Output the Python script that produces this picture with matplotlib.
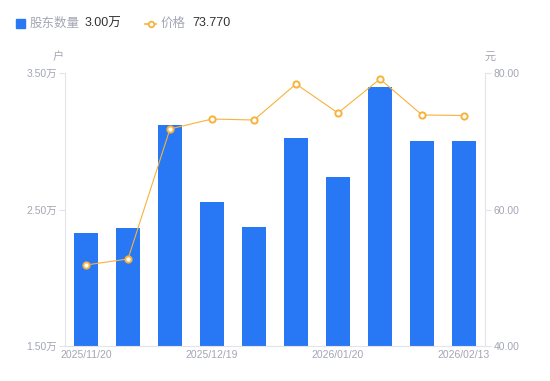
import matplotlib
matplotlib.use("Agg")
import matplotlib.pyplot as plt
from matplotlib.lines import Line2D
from matplotlib.patches import Rectangle

plt.rcParams['font.family'] = ['Liberation Sans', 'Noto Sans CJK SC', 'DejaVu Sans']

dates = ["2025/11/20", "2025/11/28", "2025/12/10", "2025/12/19", "2025/12/31",
         "2026/01/09", "2026/01/20", "2026/01/30", "2026/02/10", "2026/02/13"]
holders = [2.33, 2.365, 3.12, 2.555, 2.372, 3.025, 2.738, 3.40, 3.00, 3.00]  # 万户
prices = [51.87, 52.75, 71.8, 73.26, 73.11, 78.39, 74.14, 79.12, 73.85, 73.77]
shown_ticks = ["2025/11/20", "2025/12/19", "2026/01/20", "2026/02/13"]
left_ticks = [1.5, 2.5, 3.5]
right_ticks = [40, 60, 80]

BLUE = "#2878f6"
ORANGE = "#f8b23b"
GRAY = "#a3a6b4"
AXC = "#e3e4e8"
CJK = ['Noto Sans CJK SC', 'DejaVu Sans']

fig = plt.figure(figsize=(5.5, 3.81), dpi=100)
ax = fig.add_axes([65/550, 1-346/381, 420/550, 273/381])
x = list(range(len(dates)))
ax.bar(x, holders, width=0.56, color=BLUE, zorder=2)
ax.set_xlim(-0.5, len(dates)-0.5)
ax.set_ylim(1.5, 3.5)
ax.set_yticks(left_ticks)
ax.set_yticklabels([f"{v:.2f}万" for v in left_ticks])
ax.set_xticks([dates.index(d) for d in shown_ticks])
ax.set_xticklabels(shown_ticks)
for s in ["top", "right"]:
    ax.spines[s].set_visible(False)
ax.spines["left"].set_color(AXC)
ax.spines["bottom"].set_color(AXC)
ax.tick_params(axis="y", colors=AXC, labelcolor=GRAY, labelsize=7.5, length=4, pad=2)
ax.tick_params(axis="x", length=0, labelcolor=GRAY, labelsize=7.5, pad=3)

ax2 = ax.twinx()
ax2.plot(x, prices, color=ORANGE, lw=0.8, marker="o", ms=4.5, mfc="white",
         mec=ORANGE, mew=1.4, zorder=3)
ax2.set_ylim(40, 80)
ax2.set_yticks(right_ticks)
ax2.set_yticklabels([f"{v:.2f}" for v in right_ticks])
for s in ["top", "left", "bottom"]:
    ax2.spines[s].set_visible(False)
ax2.spines["right"].set_color(AXC)
ax2.tick_params(axis="y", colors=AXC, labelcolor=GRAY, labelsize=7.5, length=4, pad=2)

fig.text(58/550, 1-57/381, "户", color=GRAY, fontsize=8, ha="center", va="center", family=CJK)
fig.text(490/550, 1-57/381, "元", color=GRAY, fontsize=8, ha="center", va="center", family=CJK)

# legend
fig.patches.append(Rectangle((16/550, 1-28/381), 9/550, 9/381, transform=fig.transFigure,
                             color=BLUE, figure=fig))
fig.text(30/550, 1-23.5/381, "股东数量", color=GRAY, fontsize=9, va="center", family=CJK)
fig.text(85/550, 1-23.5/381, f"{holders[-1]:.2f}万", color="#333333", fontsize=9, va="center")
fig.lines.append(Line2D([145/550, 156/550], [1-23.5/381]*2, transform=fig.transFigure,
                        color=ORANGE, lw=1.2, figure=fig))
fig.lines.append(Line2D([150.5/550], [1-23.5/381], transform=fig.transFigure, color=ORANGE,
                        marker="o", ms=4, mfc="white", mec=ORANGE, mew=1.3, figure=fig))
fig.text(161/550, 1-23.5/381, "价格", color=GRAY, fontsize=9, va="center", family=CJK)
fig.text(192/550, 1-23.5/381, f"{prices[-1]:.3f}", color="#333333", fontsize=9, va="center")

fig.savefig("out.png", dpi=100)
